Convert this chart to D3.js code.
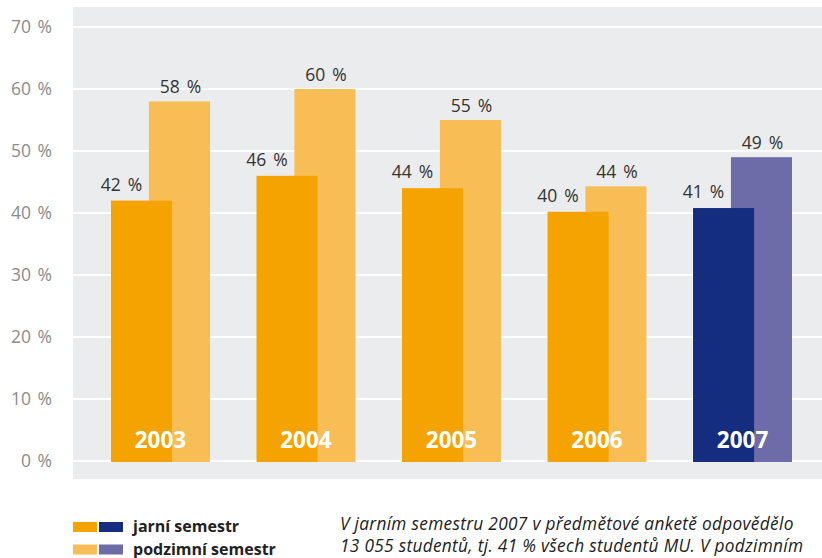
<!DOCTYPE html>
<html>
<head>
<meta charset="utf-8">
<script src="https://cdn.jsdelivr.net/npm/d3@7"></script>
<style>
  body { margin: 0; background: #fff; }
  svg { display: block; font-family: "Open Sans", sans-serif; }
</style>
</head>
<body>
<div id="container"></div>
<script>
const years = ["2003", "2004", "2005", "2006", "2007"];
const spring = [42, 46, 44, 40.2, 40.8];
const autumn = [58, 60, 55, 44.3, 49];
const springLabels = ["42 %", "46 %", "44 %", "40 %", "41 %"];
const autumnLabels = ["58 %", "60 %", "55 %", "44 %", "49 %"];
const yTicks = [0, 10, 20, 30, 40, 50, 60, 70];
const legendItems = ["jarní semestr", "podzimní semestr"];
const noteLines = [
  "V jarním semestru 2007 v předmětové anketě odpovědělo",
  "13 055 studentů, tj. 41 % všech studentů MU. V podzimním"
];

const w = 822, h = 558;
const colSpring = "#f4a300", colAutumn = "#f8be55";
const colSpring07 = "#142d7e", colAutumn07 = "#6e6ca8";

const svg = d3.select("#container").append("svg").attr("width", w).attr("height", h);

// grey panel
svg.append("rect")
  .attr("x", 73).attr("y", 7)
  .attr("width", w - 73).attr("height", 472)
  .attr("fill", "#ebecee");

const yScale = d3.scaleLinear().domain([0, 70]).range([461, 27]);
const xScale = d3.scaleBand().domain(years).range([111, 792])
  .paddingInner(0.32).paddingOuter(0);
const barW = xScale.bandwidth() * 0.617;

// gridlines
svg.append("g").selectAll("line")
  .data(yTicks).enter().append("line")
    .attr("x1", 73).attr("x2", w)
    .attr("y1", d => yScale(d)).attr("y2", d => yScale(d))
    .attr("stroke", "#fff").attr("stroke-width", 2);

// y axis labels
const yAxis = d3.axisLeft(yScale).tickValues(yTicks).tickSize(0).tickPadding(0)
  .tickFormat(d => d + " %");
const yAxisGroup = svg.append("g").attr("transform", "translate(52,0)").call(yAxis);
yAxisGroup.select(".domain").remove();
yAxisGroup.selectAll("text")
  .attr("fill", "#8c8c8c").attr("font-size", 17.5).attr("word-spacing", 2)
  .attr("font-family", "Open Sans, sans-serif");

// autumn bars (behind)
svg.append("g").selectAll("rect")
  .data(years).enter().append("rect")
    .attr("x", d => xScale(d) + xScale.bandwidth() - barW)
    .attr("y", (d, i) => yScale(autumn[i]))
    .attr("width", barW)
    .attr("height", (d, i) => yScale(0) - yScale(autumn[i]) + 1)
    .attr("fill", (d, i) => i == 4 ? colAutumn07 : colAutumn);

// spring bars (front)
svg.append("g").selectAll("rect")
  .data(years).enter().append("rect")
    .attr("x", d => xScale(d))
    .attr("y", (d, i) => yScale(spring[i]))
    .attr("width", barW)
    .attr("height", (d, i) => yScale(0) - yScale(spring[i]) + 1)
    .attr("fill", (d, i) => i == 4 ? colSpring07 : colSpring);

// value labels
svg.append("g").selectAll("text")
  .data(years).enter().append("text")
    .attr("x", d => xScale(d) + barW / 2 - 20)
    .attr("y", (d, i) => yScale(spring[i]) - 10)
    .attr("text-anchor", "middle")
    .attr("font-size", 17.5).attr("word-spacing", 2.5).attr("fill", "#333")
    .text((d, i) => springLabels[i]);

svg.append("g").selectAll("text")
  .data(years).enter().append("text")
    .attr("x", d => xScale(d) + xScale.bandwidth() - barW / 2 + 1)
    .attr("y", (d, i) => yScale(autumn[i]) - 8)
    .attr("text-anchor", "middle")
    .attr("font-size", 17.5).attr("word-spacing", 2.5).attr("fill", "#333")
    .text((d, i) => autumnLabels[i]);

// year labels
svg.append("g").selectAll("text")
  .data(years).enter().append("text")
    .attr("x", d => xScale(d) + xScale.bandwidth() / 2)
    .attr("y", 448)
    .attr("text-anchor", "middle")
    .attr("font-size", 22.5).attr("font-weight", "bold").attr("fill", "#fff")
    .text(d => d);

// legend
const legend = svg.append("g");
const legendCols = [[colSpring, colSpring07], [colAutumn, colAutumn07]];
legendItems.forEach((label, i) => {
  const y0 = 522 + i * 22.5;
  legend.append("rect").attr("x", 73).attr("y", y0).attr("width", 24).attr("height", 10).attr("fill", legendCols[i][0]);
  legend.append("rect").attr("x", 99).attr("y", y0).attr("width", 24).attr("height", 10).attr("fill", legendCols[i][1]);
  legend.append("text").attr("x", 133).attr("y", y0 + 10)
    .attr("font-size", 16).attr("font-weight", "bold").attr("fill", "#222")
    .text(label);
});

// note
svg.append("g").selectAll("text")
  .data(noteLines).enter().append("text")
    .attr("x", 340).attr("y", (d, i) => 530 + i * 22)
    .attr("font-size", 17.3).attr("letter-spacing", 0.3)
    .attr("font-style", "italic").attr("fill", "#222")
    .text(d => d);
</script>
</body>
</html>
